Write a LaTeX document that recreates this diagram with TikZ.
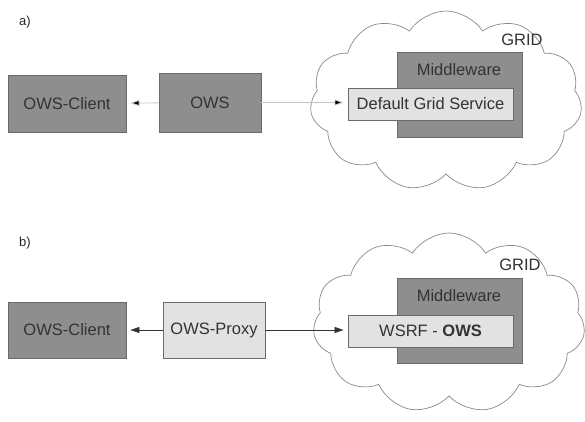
\documentclass[tikz,border=0pt]{standalone}
\usepackage{fontspec}
\setmainfont{Liberation Sans}
\usetikzlibrary{shapes.symbols,arrows.meta}
\definecolor{darkbox}{HTML}{8E8E8E}
\definecolor{lightbox}{HTML}{E2E2E2}
\definecolor{edgegray}{HTML}{6A6A6A}
\definecolor{txt}{HTML}{333333}
\definecolor{cloudline}{HTML}{8A8A8A}
\tikzset{
  x=1pt, y=-1pt,
  every node/.style={font=\fontsize{16.5}{18}\selectfont, text=txt, inner sep=0pt},
  darkrect/.style={draw=edgegray, fill=darkbox, line width=0.8pt},
  lightrect/.style={draw=edgegray, fill=lightbox, line width=0.8pt},
  gridcloud/.style={cloud, cloud puffs=11, cloud puff arc=115, aspect=1.5,
    draw=cloudline, line width=0.7pt, fill=white,
    minimum width=272pt, minimum height=180pt},
  faintlink/.style={draw=gray!45, line width=0.8pt, -{Triangle[length=9pt,width=6pt,fill=black]}, shorten >=4pt},
  solidlink/.style={draw=black!80, line width=0.7pt, -{Triangle[length=9pt,width=6pt]}, shorten >=4pt},
  caption/.style={font=\fontsize{13}{15}\selectfont, text=black!85}
}
\begin{document}
\begin{tikzpicture}
\useasboundingbox (0,0) rectangle (585,422);

% ---------- part a) ----------
\node[caption] (capa) at (25,22) {a)};
\node[gridcloud] (clouda) at (446,101) {};
\node (grida) at (522,40) {GRID};
\draw[darkrect] (397,52) rectangle (522,137);
\node (mwa) at (459,70) {Middleware};
\node[lightrect, minimum width=165pt, minimum height=32pt] (dgs) at (430.5,104) {Default Grid Service};
\node[darkrect, minimum width=118pt, minimum height=57pt] (clienta) at (67,103.5) {OWS-Client};
\node[darkrect, minimum width=102pt, minimum height=59pt] (ows) at (210,102.5) {OWS};
\draw[faintlink] (ows) -- (clienta);
\draw[faintlink] (ows.east) -- (ows.east -| dgs.west);

% ---------- part b) ----------
\node[caption] (capb) at (25,243) {b)};
\node[gridcloud] (cloudb) at (449,323) {};
\node (gridb) at (520,265) {GRID};
\draw[darkrect] (397,278) rectangle (522,363);
\node (mwb) at (459,296) {Middleware};
\node[lightrect, minimum width=165pt, minimum height=32pt] (wsrf) at (430.5,331) {WSRF - \textbf{OWS}};
\node[darkrect, minimum width=118pt, minimum height=56pt] (clientb) at (67,330) {OWS-Client};
\node[lightrect, minimum width=102pt, minimum height=56pt] (proxy) at (214,330) {OWS-Proxy};
\draw[solidlink] (proxy) -- (clientb);
\draw[solidlink] (proxy.east) -- (proxy.east -| wsrf.west);
\end{tikzpicture}
\end{document}
